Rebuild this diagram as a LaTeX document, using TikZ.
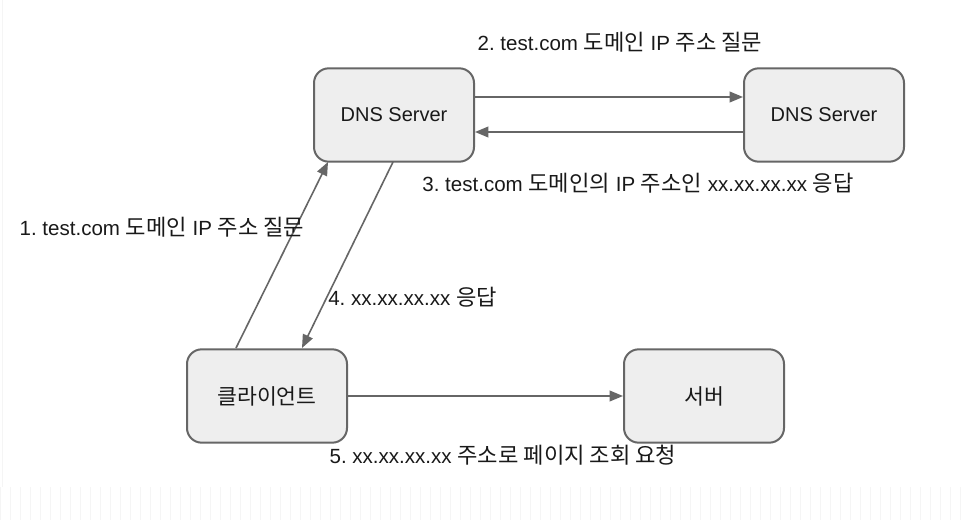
\documentclass[tikz,border=0pt]{standalone}
\usepackage{fontspec}
\setmainfont{Liberation Sans}
\newfontfamily\kr[Scale=1.08]{Noto Sans CJK KR}
\usetikzlibrary{arrows.meta}
\definecolor{boxfill}{HTML}{EEEEEE}
\definecolor{edgegray}{HTML}{666666}
\tikzset{
  box/.style={draw=edgegray, fill=boxfill, line width=1.5pt, rounded corners=11pt,
    minimum width=120pt, minimum height=70pt, inner sep=0pt, font=\fontsize{15pt}{18pt}\selectfont, text=black!90},
  conn/.style={draw=edgegray, line width=1.2pt, -{Triangle[length=10pt,width=8pt]}},
  lbl/.style={inner sep=0pt, font=\fontsize{15.4pt}{18pt}\selectfont, text=black!90}
}
\begin{document}
\frenchspacing
\begin{tikzpicture}[x=0.75pt,y=-0.75pt]
\useasboundingbox (0,0) rectangle (967,520);
\fill[white] (0,0) rectangle (967,520);
% faint background grid strip
\begin{scope}
\clip (0,487) rectangle (967,520);
\draw[black!4, line width=0.4pt] (0,487) grid[step=10] (970,530);
\end{scope}
\draw[black!4, line width=0.4pt] (2,0) -- (2,487);
% nodes
\node[box] (dns1) at (394,115) {DNS Server};
\node[box] (dns2) at (824,115) {DNS Server};
\node[box] (client) at (267,396) {\kr 클라이언트};
\node[box] (server) at (704,396) {\kr 서버};
% connectors
\draw[conn] ([yshift=13.5pt]dns1.east) -- ([yshift=13.5pt]dns2.west);
\draw[conn] ([yshift=-12.75pt]dns2.west) -- ([yshift=-12.75pt]dns1.east);
\coordinate (c1) at (236,348);
\coordinate (d1) at (328,162);
\coordinate (d2) at (393,162);
\coordinate (c2) at (302,348);
\draw[conn] (c1) -- (d1);
\draw[conn] (d2) -- (c2);
\draw[conn] (client.east) -- (server.west);
% labels
\node[lbl] (l2) at (620,42) {2. test.com {\kr 도메인} IP {\kr 주소 질문}};
\node[lbl] (l3) at (638,183) {3. test.com {\kr 도메인의} IP {\kr 주소인} xx.xx.xx.xx {\kr 응답}};
\node[lbl] (l1) at (162,227) {1. test.com {\kr 도메인} IP {\kr 주소 질문}};
\node[lbl, anchor=west] (l4) at (328,297) {4. xx.xx.xx.xx {\kr 응답}};
\node[lbl] (l5) at (503,455) {5. xx.xx.xx.xx {\kr 주소로 페이지 조회 요청}};
\end{tikzpicture}
\end{document}
